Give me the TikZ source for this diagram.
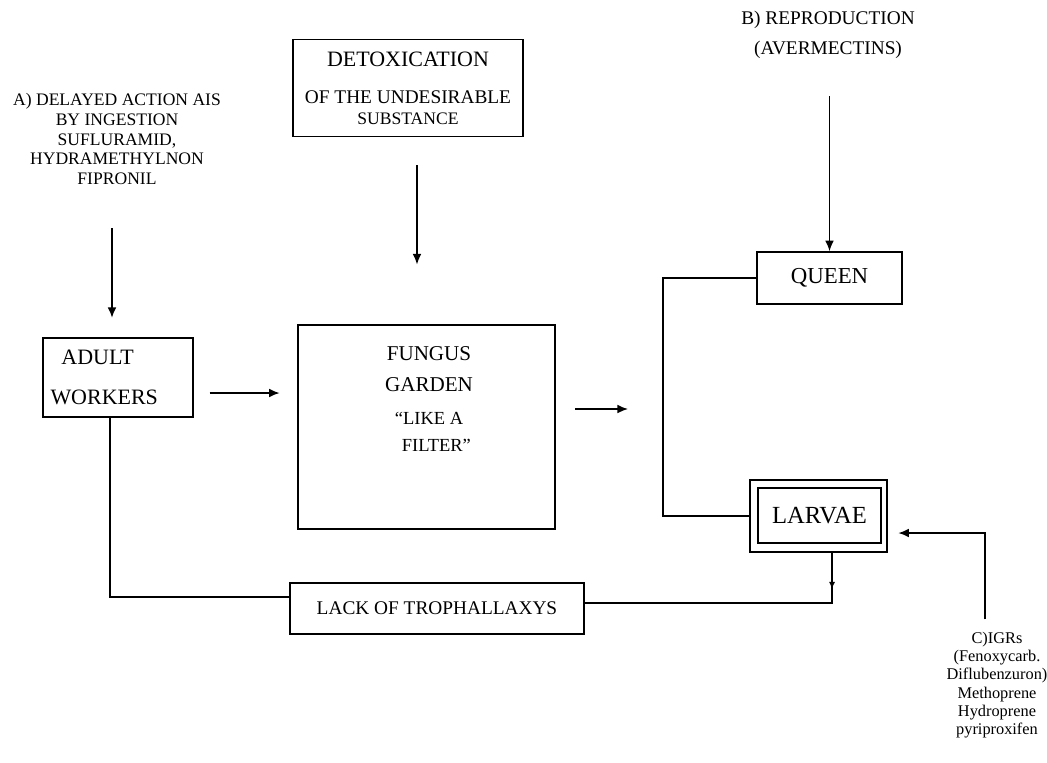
\documentclass[tikz,border=0pt]{standalone}
\usepackage{fontspec}
\setmainfont{Liberation Serif}
\usetikzlibrary{arrows.meta,positioning}

\newcommand{\fs}[2]{\fontsize{#1}{#2}\selectfont}

\begin{document}
\begin{tikzpicture}[x=0.02cm,y=-0.02cm,
  box/.style={draw,line width=0.9pt,inner sep=0pt,align=center},
  txt/.style={inner sep=0pt,align=center},
  link/.style={line width=0.9pt},
  arr/.style={link,-{Latex[length=6pt,width=5pt]}}]
\useasboundingbox (0,0) rectangle (1047,762);

% boxes
\node[box,minimum width=4.6cm,minimum height=1.94cm] (detox) at (408,88) {{\fs{12.5}{14}DETOXICATION}\\[9pt]\fs{11}{12}OF THE UNDESIRABLE\\SUBSTANCE};
\node[box,minimum width=3cm,minimum height=1.58cm,text width=2.7cm,align=left,font={\fs{12.5}{22.7}}] (adult) at (118,377.5) {\hspace*{0.5em}ADULT\\WORKERS};
\node[box,minimum width=5.14cm,minimum height=4.08cm] (fungus) at (426.5,427) {};
\node[txt,font={\fs{10.5}{15.3}}] (fungustext) at (429,399) {{\fs{12}{14}FUNGUS}\\[2pt]{\fs{12}{14}GARDEN}\\[3.4pt]“LIKE A\\\hspace*{0.8em}FILTER”};
\node[box,minimum width=2.9cm,minimum height=1.04cm,font={\fs{13}{15}}] (queen) at (829.5,278) {QUEEN};
\node[box,minimum width=2.74cm,minimum height=1.44cm] (larvout) at (818.5,516) {};
\node[box,line width=1.6pt,minimum width=2.46cm,minimum height=1.1cm,font={\fs{14}{16}}] (larvae) at (819.5,515.5) {LARVAE};
\node[box,minimum width=5.88cm,minimum height=1.02cm,font={\fs{11}{13}}] (lack) at (437,608.5) {LACK OF TROPHALLAXYS};

% texts
\node[txt,font={\fs{10}{11.2}}] (atext) at (117,139) {A) DELAYED ACTION AIS\\BY INGESTION\\SUFLURAMID,\\HYDRAMETHYLNON\\FIPRONIL};
\node[txt,font={\fs{11}{17.3}}] (btext) at (828,35) {B) REPRODUCTION\\(AVERMECTINS)};
\node[txt,font={\fs{9.3}{10.4}}] (ctext) at (997,685) {C)IGRs\\(Fenoxycarb.\\Diflubenzuron)\\Methoprene\\Hydroprene\\pyriproxifen};

% arrows
\coordinate (atail) at (112,228);
\draw[arr,shorten >=11pt] (atail) -- (atail |- adult.north);
\coordinate (awy) at (0,393);
\draw[arr,shorten <=9pt,shorten >=10pt] (adult.east |- awy) -- (fungus.west |- awy);
\coordinate (dx) at (417,0);
\draw[arr,shorten <=16pt,shorten >=34pt] (detox.south -| dx) -- (fungus.north -| dx);
\coordinate (fhead) at (628,409);
\draw[arr,shorten <=11pt] (fungus.east |- fhead) -- (fhead);
\draw[arr,shorten <=21pt] (btext.south -| queen.north) -- (queen.north);

% links
\coordinate (ql) at (663,400);
\draw[link] (queen.west) -| (ql) |- (larvout.west);
\coordinate (lk) at (832,603);
\coordinate (lkm) at (832,589);
\draw[link] (larvout.south -| lk) -- (lk) -- (lk -| lack.east);
\draw[link,-{Latex[length=4pt,width=3.5pt]}] (larvout.south -| lk) -- (lkm);
\coordinate (al) at (110,597);
\draw[link] (adult.south -| al) -- (al) -- (al -| lack.west);
\coordinate (cg) at (985,533);
\draw[arr,shorten <=7pt,shorten >=6pt] (ctext.north -| cg) -- (cg) -- (cg -| larvout.east);
\end{tikzpicture}
\end{document}
